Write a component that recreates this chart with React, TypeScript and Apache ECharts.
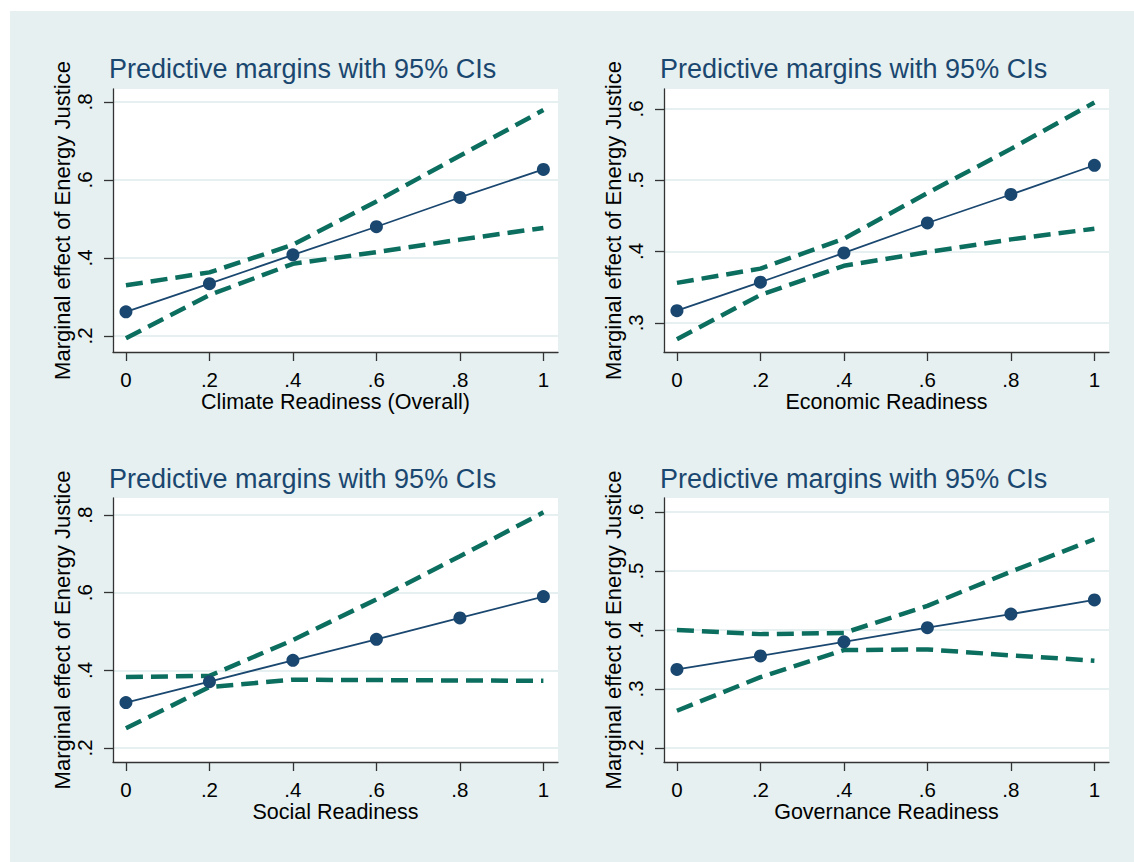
import React, { useEffect, useRef } from "react";
import * as echarts from "echarts";

const xValues = [0, 0.2, 0.4, 0.6, 0.8, 1];
const xTickValues = [0, 0.2, 0.4, 0.6, 0.8, 1];

const panelTitle = "Predictive margins with 95% CIs";
const yAxisTitle = "Marginal effect of Energy Justice";
const xAxisTitles = [
  "Climate Readiness (Overall)",
  "Economic Readiness",
  "Social Readiness",
  "Governance Readiness",
];

const climateMargin = [0.262, 0.334, 0.408, 0.48, 0.555, 0.627];
const climateUpper = [0.33, 0.363, 0.434, 0.545, 0.662, 0.779];
const climateLower = [0.194, 0.305, 0.385, 0.415, 0.447, 0.477];

const economicMargin = [0.317, 0.357, 0.398, 0.44, 0.48, 0.521];
const economicUpper = [0.356, 0.376, 0.418, 0.482, 0.544, 0.609];
const economicLower = [0.277, 0.339, 0.38, 0.399, 0.417, 0.432];

const socialMargin = [0.317, 0.371, 0.426, 0.48, 0.535, 0.59];
const socialUpper = [0.383, 0.386, 0.478, 0.583, 0.694, 0.807];
const socialLower = [0.251, 0.357, 0.376, 0.375, 0.374, 0.373];

const governanceMargin = [0.333, 0.356, 0.38, 0.404, 0.427, 0.451];
const governanceUpper = [0.4, 0.393, 0.395, 0.441, 0.499, 0.554];
const governanceLower = [0.263, 0.32, 0.366, 0.367, 0.357, 0.348];

const yTicksClimate = [0.2, 0.4, 0.6, 0.8];
const yTicksEconomic = [0.3, 0.4, 0.5, 0.6];
const yTicksSocial = [0.2, 0.4, 0.6, 0.8];
const yTicksGovernance = [0.2, 0.3, 0.4, 0.5, 0.6];

const yRanges = [
  [0.159, 0.833],
  [0.259, 0.628],
  [0.164, 0.844],
  [0.176, 0.624],
];

const panels = [
  { margin: climateMargin, upper: climateUpper, lower: climateLower, yTicks: yTicksClimate },
  { margin: economicMargin, upper: economicUpper, lower: economicLower, yTicks: yTicksEconomic },
  { margin: socialMargin, upper: socialUpper, lower: socialLower, yTicks: yTicksSocial },
  { margin: governanceMargin, upper: governanceUpper, lower: governanceLower, yTicks: yTicksGovernance },
];

const gridLefts = [113, 664, 113, 664];
const gridTops = [89, 89, 498, 498];
const gridWidth = 445;
const gridHeights = [263, 263, 264, 264];
const titleLefts = [109, 660, 109, 660];
const titleTops = [55, 55, 465, 465];

const FONT = "'Liberation Sans', Arial, Helvetica, sans-serif";
const NAVY = "#1a476f";
const TEAL = "#0b6e5f";
const BG = "#e6f0f0";
const AXIS = "#333333";

const fmt = (v: number) => {
  const s = (Math.round(v * 10) / 10).toString();
  return s.replace(/^0\./, ".");
};

const pairs = (ys: number[]) => xValues.map((x, i) => [x, ys[i]]);

export default function App() {
  const ref = useRef<HTMLDivElement>(null);
  useEffect(() => {
    document.body.style.margin = "0";
    if (!ref.current) return;
    const chart = echarts.init(ref.current, undefined, { renderer: "svg" });

    const grid: any[] = [];
    const xAxis: any[] = [];
    const yAxis: any[] = [];
    const series: any[] = [];
    const title: any[] = [];

    panels.forEach((p, i) => {
      grid.push({
        left: gridLefts[i],
        top: gridTops[i],
        width: gridWidth,
        height: gridHeights[i],
        show: true,
        backgroundColor: "#ffffff",
        borderWidth: 0,
      });
      title.push({
        text: panelTitle,
        left: titleLefts[i],
        top: titleTops[i],
        padding: 0,
        textStyle: { fontFamily: FONT, fontSize: 27, fontWeight: "normal", color: NAVY },
      });
      xAxis.push({
        type: "value",
        gridIndex: i,
        min: -0.031,
        max: 1.035,
        name: xAxisTitles[i],
        nameLocation: "middle",
        nameGap: 37,
        nameTextStyle: { fontFamily: FONT, fontSize: 21.5, color: "#000" },
        axisLine: { show: true, onZero: false, lineStyle: { color: AXIS, width: 1.3 } },
        axisTick: { show: true, length: 9, customValues: xTickValues, lineStyle: { color: AXIS, width: 1.3 } },
        axisLabel: {
          customValues: xTickValues,
          formatter: fmt,
          fontFamily: FONT,
          fontSize: 20.5,
          color: "#000",
          margin: 17,
        },
        splitLine: { show: false },
      });
      yAxis.push({
        type: "value",
        gridIndex: i,
        min: yRanges[i][0],
        max: yRanges[i][1],
        name: yAxisTitle,
        nameLocation: "middle",
        nameRotate: 90,
        nameGap: 37,
        nameTextStyle: { fontFamily: FONT, fontSize: 22, color: "#000" },
        axisLine: { show: true, onZero: false, lineStyle: { color: AXIS, width: 1.3 } },
        axisTick: { show: true, length: 9, customValues: p.yTicks, lineStyle: { color: AXIS, width: 1.3 } },
        axisLabel: {
          customValues: p.yTicks,
          formatter: fmt,
          rotate: 90,
          fontFamily: FONT,
          fontSize: 20.5,
          color: "#000",
          margin: 18,
        },
        splitLine: { show: true, lineStyle: { color: BG, width: 2 } },
      });
      const dash = {
        type: "line",
        xAxisIndex: i,
        yAxisIndex: i,
        showSymbol: false,
        symbol: "none",
        lineStyle: { color: TEAL, width: 4.5, type: [17, 8] },
        silent: true,
      };
      series.push({ ...dash, data: pairs(p.upper) });
      series.push({ ...dash, data: pairs(p.lower) });
      series.push({
        type: "line",
        xAxisIndex: i,
        yAxisIndex: i,
        data: pairs(p.margin),
        symbol: "circle",
        symbolSize: 13,
        itemStyle: { color: NAVY },
        lineStyle: { color: NAVY, width: 1.8 },
        z: 3,
      });
    });

    chart.setOption({
      animation: false,
      backgroundColor: "#ffffff",
      graphic: [
        {
          type: "rect",
          z: -10,
          shape: { x: 10, y: 11, width: 1124, height: 851 },
          style: { fill: BG },
          silent: true,
        },
      ],
      title,
      grid,
      xAxis,
      yAxis,
      series,
    });
    return () => chart.dispose();
  }, []);
  return <div ref={ref} style={{ width: 1134, height: 862 }} />;
}
